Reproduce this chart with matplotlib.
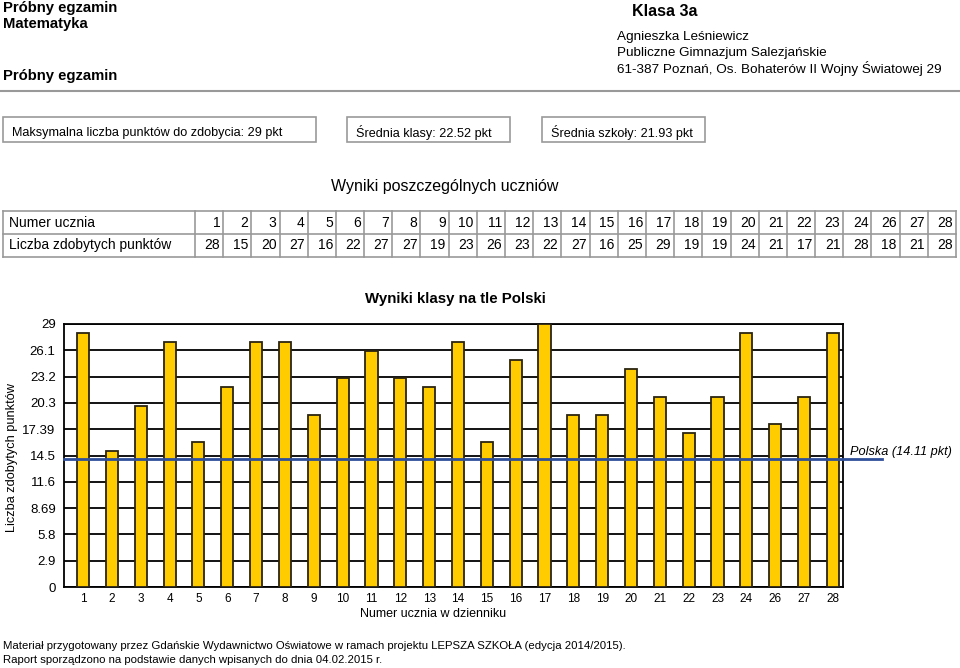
import numpy as np
import matplotlib
matplotlib.use("Agg")
import matplotlib.pyplot as plt
from matplotlib.patches import Rectangle
from matplotlib.lines import Line2D

plt.rcParams["font.family"] = ["Liberation Sans", "DejaVu Sans"]

# ---- data ----
students = ["1", "2", "3", "4", "5", "6", "7", "8", "9", "10", "11", "12", "13",
            "14", "15", "16", "17", "18", "19", "20", "21", "22", "23", "24",
            "26", "27", "28"]
points = [28, 15, 20, 27, 16, 22, 27, 27, 19, 23, 26, 23, 22, 27, 16, 25, 29,
          19, 19, 24, 21, 17, 21, 28, 18, 21, 28]
y_ticks = [0, 2.9, 5.8, 8.69, 11.6, 14.5, 17.39, 20.3, 23.2, 26.1, 29]
y_tick_labels = ["0", "2.9", "5.8", "8.69", "11.6", "14.5", "17.39", "20.3",
                 "23.2", "26.1", "29"]
poland_avg = 14.11
max_points = 29
class_avg = 22.52
school_avg = 21.93

W, H = 960, 668
fig = plt.figure(figsize=(W / 100, H / 100), dpi=100)


def fx(x):
    return x / W


def fy(y):
    return 1 - y / H


def txt(x, y, s, **kw):
    kw.setdefault("va", "center")
    kw.setdefault("ha", "left")
    fig.text(fx(x), fy(y), s, **kw)


def hline(x0, x1, y, **kw):
    fig.add_artist(Line2D([fx(x0), fx(x1)], [fy(y), fy(y)], transform=fig.transFigure, **kw))


def vline(x, y0, y1, **kw):
    fig.add_artist(Line2D([fx(x), fx(x)], [fy(y0), fy(y1)], transform=fig.transFigure, **kw))


def box(x0, y0, x1, y1, **kw):
    fig.add_artist(Rectangle((fx(x0), fy(y1)), fx(x1) - fx(x0), fy(y0) - fy(y1),
                             transform=fig.transFigure, fill=False, **kw))


# ---- header ----
txt(3, 8, "Próbny egzamin", fontsize=10.7, fontweight="bold")
txt(3, 24, "Matematyka", fontsize=10.7, fontweight="bold")
txt(3, 76, "Próbny egzamin", fontsize=10.7, fontweight="bold")
txt(632, 12, "Klasa 3a", fontsize=11.5, fontweight="bold")
txt(617, 37, "Agnieszka Leśniewicz", fontsize=9.7)
txt(617, 53, "Publiczne Gimnazjum Salezjańskie", fontsize=9.7)
txt(617, 69, "61-387 Poznań, Os. Bohaterów II Wojny Światowej 29", fontsize=9.7)
hline(0, 960, 91, color="#999999", lw=1.5)

# ---- summary boxes ----
for x0, x1, s in [(3, 316, f"Maksymalna liczba punktów do zdobycia: {max_points} pkt"),
                  (347, 510, f"Średnia klasy: {class_avg:.2f} pkt"),
                  (542, 705, f"Średnia szkoły: {school_avg:.2f} pkt")]:
    box(x0, 117, x1, 142, edgecolor="#9a9a9a", lw=1.2)
    txt(x0 + 9, 133, s, fontsize=9.1)

# ---- results table ----
txt(445, 187, "Wyniki poszczególnych uczniów", fontsize=11.5, ha="center")
t_left, t_lab, t_right = 3, 195, 956
t_top, t_mid, t_bot = 211, 234, 257
cw = (t_right - t_lab) / len(students)
for y in (t_top, t_mid, t_bot):
    hline(t_left, t_right, y, color="#999999", lw=1.2)
vline(t_left, t_top, t_bot, color="#999999", lw=1.2)
for i in range(len(students) + 1):
    vline(t_lab + i * cw, t_top, t_bot, color="#999999", lw=1.2)
txt(9, 223, "Numer ucznia", fontsize=10)
txt(9, 245, "Liczba zdobytych punktów", fontsize=10)
for i, (s, p) in enumerate(zip(students, points)):
    xr = t_lab + (i + 1) * cw - 3
    txt(xr, 223, s, fontsize=10, ha="right")
    txt(xr, 245, str(p), fontsize=10, ha="right")

# ---- chart ----
ax_l, ax_r, ax_t, ax_b = 64, 843, 324, 587
ax = fig.add_axes([fx(ax_l), fy(ax_b), fx(ax_r) - fx(ax_l), fy(ax_t) - fy(ax_b)])
x = np.arange(len(students))
ax.bar(x, points, width=0.42, color="#FFCC00", edgecolor="#2b2410", lw=1.3, zorder=3)
for t in y_ticks:
    ax.axhline(t, color="black", lw=1.3, zorder=1)
ax.set_xlim(-0.66, len(students) - 0.65)
ax.set_ylim(0, max_points)
ax.set_yticks(y_ticks)
ax.set_yticklabels(y_tick_labels, fontsize=9.5)
ax.set_xticks(x)
ax.set_xticklabels(students, fontsize=8.5)
ax.tick_params(axis="y", length=0, pad=6)
ax.tick_params(axis="x", length=0, pad=4)
for sp in ax.spines.values():
    sp.set_linewidth(1.3)
ax.add_artist(Line2D([-0.66, len(students) + 0.7], [poland_avg, poland_avg],
                     color="#2f4f9a", lw=2, zorder=4, clip_on=False))
txt(850, 452, f"Polska ({poland_avg} pkt)", fontsize=9.2, style="italic")
txt(12, 458, "Liczba zdobytych punktów", fontsize=9.2, rotation=90, ha="center")
txt(433, 614, "Numer ucznia w dzienniku", fontsize=9, ha="center")
txt(455, 299, "Wyniki klasy na tle Polski", fontsize=10.8, fontweight="bold", ha="center")

# ---- footer ----
txt(3, 646, "Materiał przygotowany przez Gdańskie Wydawnictwo Oświatowe w ramach projektu "
    "LEPSZA SZKOŁA (edycja 2014/2015).", fontsize=8.2)
txt(3, 660, "Raport sporządzono na podstawie danych wpisanych do dnia 04.02.2015 r.", fontsize=8.2)

fig.savefig("out.png", dpi=100)
